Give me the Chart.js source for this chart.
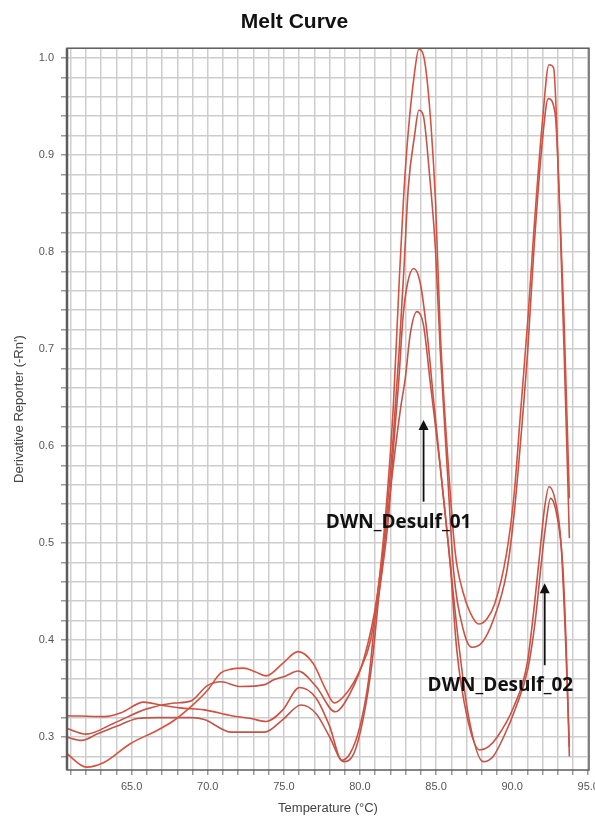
<!DOCTYPE html>
<html>
<head>
<meta charset="utf-8">
<title>Melt Curve</title>
<script src="https://cdn.jsdelivr.net/npm/chart.js@4.4.1/dist/chart.umd.min.js"></script>
<style>
    html, body { margin: 0; padding: 0; background: #fff; }
    #grafico { display: block; }
</style>
</head>
<body>
<canvas id="grafico" width="595" height="826"></canvas>
<script>
// four wells, temperature (C) and derivative reporter
var tempPoco1 = [60.73, 62.02, 63.21, 64.9, 66.69, 67.78, 68.87, 69.97, 70.86, 71.56,
    72.35, 73.15, 73.84, 74.93, 75.93, 76.92, 77.72, 78.31, 79.11, 80.0,
    80.7, 81.19, 81.69, 82.19, 82.58, 82.88, 83.18, 83.58, 83.87, 84.27,
    84.67, 84.97, 85.27, 85.76, 86.26, 86.76, 87.25, 87.8, 88.35, 88.85,
    89.64, 90.13, 90.53, 91.03, 91.42, 92.02, 92.42, 92.72, 93.11, 93.41, 93.76];
var derivPoco1 = [0.283, 0.269, 0.274, 0.293, 0.307, 0.317, 0.331, 0.348, 0.366, 0.370,
    0.371, 0.367, 0.363, 0.376, 0.388, 0.376, 0.350, 0.335, 0.345, 0.369,
    0.400, 0.452, 0.530, 0.640, 0.770, 0.860, 0.925, 0.984, 1.009, 0.995,
    0.930, 0.850, 0.720, 0.590, 0.490, 0.450, 0.428, 0.4165, 0.422, 0.437,
    0.490, 0.550, 0.630, 0.730, 0.820, 0.940, 0.993, 0.990, 0.850, 0.730, 0.546];

var tempPoco2 = [60.73, 62.02, 63.79, 65.99, 67.78, 68.87, 69.97, 70.86, 72.15, 73.74,
    74.34, 75.13, 75.93, 77.12, 78.37, 79.35, 80.3, 81.09, 81.69, 82.19,
    82.58, 82.88, 83.18, 83.58, 83.87, 84.17, 84.57, 84.97, 85.27, 85.76,
    86.16, 86.8, 87.35, 88.05, 88.75, 89.64, 90.13, 90.53, 91.03, 91.42,
    92.02, 92.37, 92.82, 93.41, 93.76];
var derivPoco2 = [0.309, 0.303, 0.314, 0.329, 0.335, 0.337, 0.353, 0.357, 0.352, 0.354,
    0.359, 0.363, 0.368, 0.352, 0.326, 0.345, 0.383, 0.441, 0.520, 0.610,
    0.700, 0.780, 0.867, 0.919, 0.946, 0.940, 0.880, 0.800, 0.700, 0.570,
    0.470, 0.410, 0.3925, 0.398, 0.420, 0.470, 0.530, 0.600, 0.700, 0.800,
    0.920, 0.958, 0.943, 0.700, 0.505];

var tempPoco3 = [60.73, 63.21, 64.3, 65.79, 66.89, 68.18, 69.77, 71.56, 72.85, 73.84,
    74.93, 76.03, 77.12, 78.01, 78.81, 79.35, 80.0, 80.57, 80.99, 81.45,
    81.88, 82.19, 82.54, 82.83, 83.13, 83.53, 83.96, 84.41, 84.84, 85.39,
    85.94, 86.36, 87.05, 87.87, 88.45, 89.02, 90.1, 90.99, 91.42, 91.82,
    92.12, 92.42, 92.82, 93.21, 93.51, 93.76];
var derivPoco3 = [0.322, 0.321, 0.325, 0.336, 0.333, 0.330, 0.328, 0.322, 0.319, 0.316,
    0.328, 0.351, 0.340, 0.311, 0.276, 0.283, 0.311, 0.359, 0.421, 0.470,
    0.527, 0.596, 0.665, 0.733, 0.768, 0.783, 0.768, 0.716, 0.647, 0.562,
    0.476, 0.390, 0.320, 0.2866, 0.290, 0.300, 0.331, 0.376, 0.430, 0.490,
    0.535, 0.558, 0.545, 0.500, 0.400, 0.290];

var tempPoco4 = [60.73, 61.72, 62.72, 64.01, 65.4, 66.69, 67.78, 68.97, 69.77, 71.56,
    73.74, 74.93, 76.13, 77.12, 78.01, 78.91, 79.6, 80.2, 80.79, 81.24,
    81.69, 82.19, 82.68, 82.98, 83.31, 83.74, 84.17, 84.62, 85.27, 85.86,
    86.46, 87.15, 88.1, 88.75, 89.44, 90.23, 91.03, 91.52, 91.92, 92.22,
    92.52, 92.92, 93.31, 93.56, 93.76];
var derivPoco4 = [0.300, 0.2965, 0.303, 0.311, 0.319, 0.320, 0.320, 0.320, 0.318, 0.305,
    0.305, 0.318, 0.333, 0.324, 0.300, 0.2746, 0.283, 0.318, 0.376, 0.445,
    0.510, 0.580, 0.640, 0.670, 0.716, 0.7385, 0.725, 0.665, 0.579, 0.490,
    0.400, 0.320, 0.2746, 0.280, 0.300, 0.330, 0.370, 0.420, 0.480, 0.520,
    0.546, 0.530, 0.480, 0.390, 0.280];

var xTickValues = [65, 70, 75, 80, 85, 90, 95];
var xTickLabels = ['65.0', '70.0', '75.0', '80.0', '85.0', '90.0', '95.0'];
var yTickValues = [0.3, 0.4, 0.5, 0.6, 0.7, 0.8, 0.9, 1.0];
var yTickLabels = ['0.3', '0.4', '0.5', '0.6', '0.7', '0.8', '0.9', '1.0'];

// the two arrow notes (data coordinates)
var notaTexto = ['DWN_Desulf_01', 'DWN_Desulf_02'];
var notaTemp = [82.54, 89.23];
var notaValor = [0.521, 0.3526];
var setaTemp = [84.18, 92.14];
var setaBase = [0.5426, 0.374];
var setaPonta = [0.6268, 0.4585];

function juntar(temps, valores) {
    let pts = [];
    for (let i = 0; i < temps.length; i++) {
        pts.push({ x: temps[i], y: valores[i] });
    }
    return pts;
}

function serie(temps, valores, cor) {
    return {
        data: juntar(temps, valores),
        borderColor: cor,
        borderWidth: 1.6,
        pointRadius: 0,
        fill: false,
        cubicInterpolationMode: 'monotone'
    };
}

var moldura = {
    id: 'moldura',
    afterDatasetsDraw: function(chart) {
        let ctx = chart.ctx;
        let a = chart.chartArea;
        let xs = chart.scales.x;
        let ys = chart.scales.y;
        ctx.save();
        ctx.strokeStyle = '#5c5c5c';
        ctx.lineWidth = 1.5;
        ctx.strokeRect(a.left, a.top, a.right - a.left, a.bottom - a.top);
        ctx.lineWidth = 2.5;
        ctx.beginPath();
        ctx.moveTo(a.left, a.top);
        ctx.lineTo(a.left, a.bottom);
        ctx.stroke();

        ctx.fillStyle = '#111';
        ctx.strokeStyle = '#111';
        ctx.font = 'bold 19px "Open Sans"';
        ctx.textAlign = 'center';
        ctx.textBaseline = 'middle';
        for (let i = 0; i < notaTexto.length; i++) {
            let ax = xs.getPixelForValue(setaTemp[i]);
            let y0 = ys.getPixelForValue(setaBase[i]);
            let y1 = ys.getPixelForValue(setaPonta[i]);
            ctx.lineWidth = 1.8;
            ctx.beginPath();
            ctx.moveTo(ax, y0);
            ctx.lineTo(ax, y1 + 8);
            ctx.stroke();
            ctx.beginPath();
            ctx.moveTo(ax, y1);
            ctx.lineTo(ax - 5, y1 + 10);
            ctx.lineTo(ax + 5, y1 + 10);
            ctx.closePath();
            ctx.fill();
            ctx.fillText(notaTexto[i], xs.getPixelForValue(notaTemp[i]), ys.getPixelForValue(notaValor[i]));
        }
        ctx.restore();
    }
};

var grafico = document.getElementById('grafico').getContext('2d');

var meugrafico = new Chart(grafico, {
    type: 'line',
    data: {
        datasets: [
            serie(tempPoco1, derivPoco1, 'rgb(214, 82, 62)'),
            serie(tempPoco2, derivPoco2, 'rgb(196, 84, 72)'),
            serie(tempPoco3, derivPoco3, 'rgb(206, 80, 66)'),
            serie(tempPoco4, derivPoco4, 'rgb(190, 86, 76)')
        ]
    },
    options: {
        responsive: false,
        animation: false,
        layout: { padding: { left: 0, right: 6, top: 0, bottom: 0 } },
        plugins: {
            legend: { display: false },
            tooltip: { enabled: false },
            title: {
                display: true,
                text: 'Melt Curve',
                color: '#111',
                font: { family: 'Liberation Sans', size: 21, weight: 'bold' },
                padding: { top: 10, bottom: 13 }
            }
        },
        scales: {
            x: {
                type: 'linear',
                min: 60.75,
                max: 95.05,
                afterBuildTicks: function(scale) {
                    let t = [];
                    for (let v = 61; v <= 95; v++) t.push({ value: v });
                    scale.ticks = t;
                },
                afterFit: function(scale) {
                    scale.height = 56;
                    scale.paddingLeft = 0;
                    scale.paddingRight = 0;
                },
                ticks: {
                    autoSkip: false,
                    maxRotation: 0,
                    padding: 5,
                    color: '#555',
                    font: { family: 'Liberation Sans', size: 11 },
                    callback: function(value) {
                        let i = xTickValues.indexOf(value);
                        return i >= 0 ? xTickLabels[i] : '';
                    }
                },
                grid: { color: '#cdcdcd', lineWidth: 1.5, tickColor: '#999', tickLength: 5 },
                border: { display: false },
                title: {
                    display: true,
                    text: 'Temperature (°C)',
                    color: '#444',
                    font: { family: 'Liberation Sans', size: 13 },
                    padding: { top: 0, bottom: 10 }
                }
            },
            y: {
                min: 0.266,
                max: 1.01,
                afterBuildTicks: function(scale) {
                    let t = [];
                    for (let k = 14; k <= 50; k++) t.push({ value: k / 50 });
                    scale.ticks = t;
                },
                afterFit: function(scale) {
                    scale.width = 67;
                    scale.paddingTop = 0;
                    scale.paddingBottom = 0;
                },
                ticks: {
                    autoSkip: false,
                    padding: 7,
                    color: '#555',
                    font: { family: 'Liberation Sans', size: 11 },
                    callback: function(value) {
                        for (let i = 0; i < yTickValues.length; i++) {
                            if (Math.abs(yTickValues[i] - value) < 1e-6) return yTickLabels[i];
                        }
                        return '';
                    }
                },
                grid: { color: '#cdcdcd', lineWidth: 1.5, tickColor: '#999', tickLength: 6 },
                border: { display: false },
                title: {
                    display: true,
                    text: "Derivative Reporter (-Rn')",
                    color: '#444',
                    font: { family: 'Liberation Sans', size: 13 },
                    padding: { top: 12, bottom: 0 }
                }
            }
        }
    },
    plugins: [moldura]
});
</script>
</body>
</html>
